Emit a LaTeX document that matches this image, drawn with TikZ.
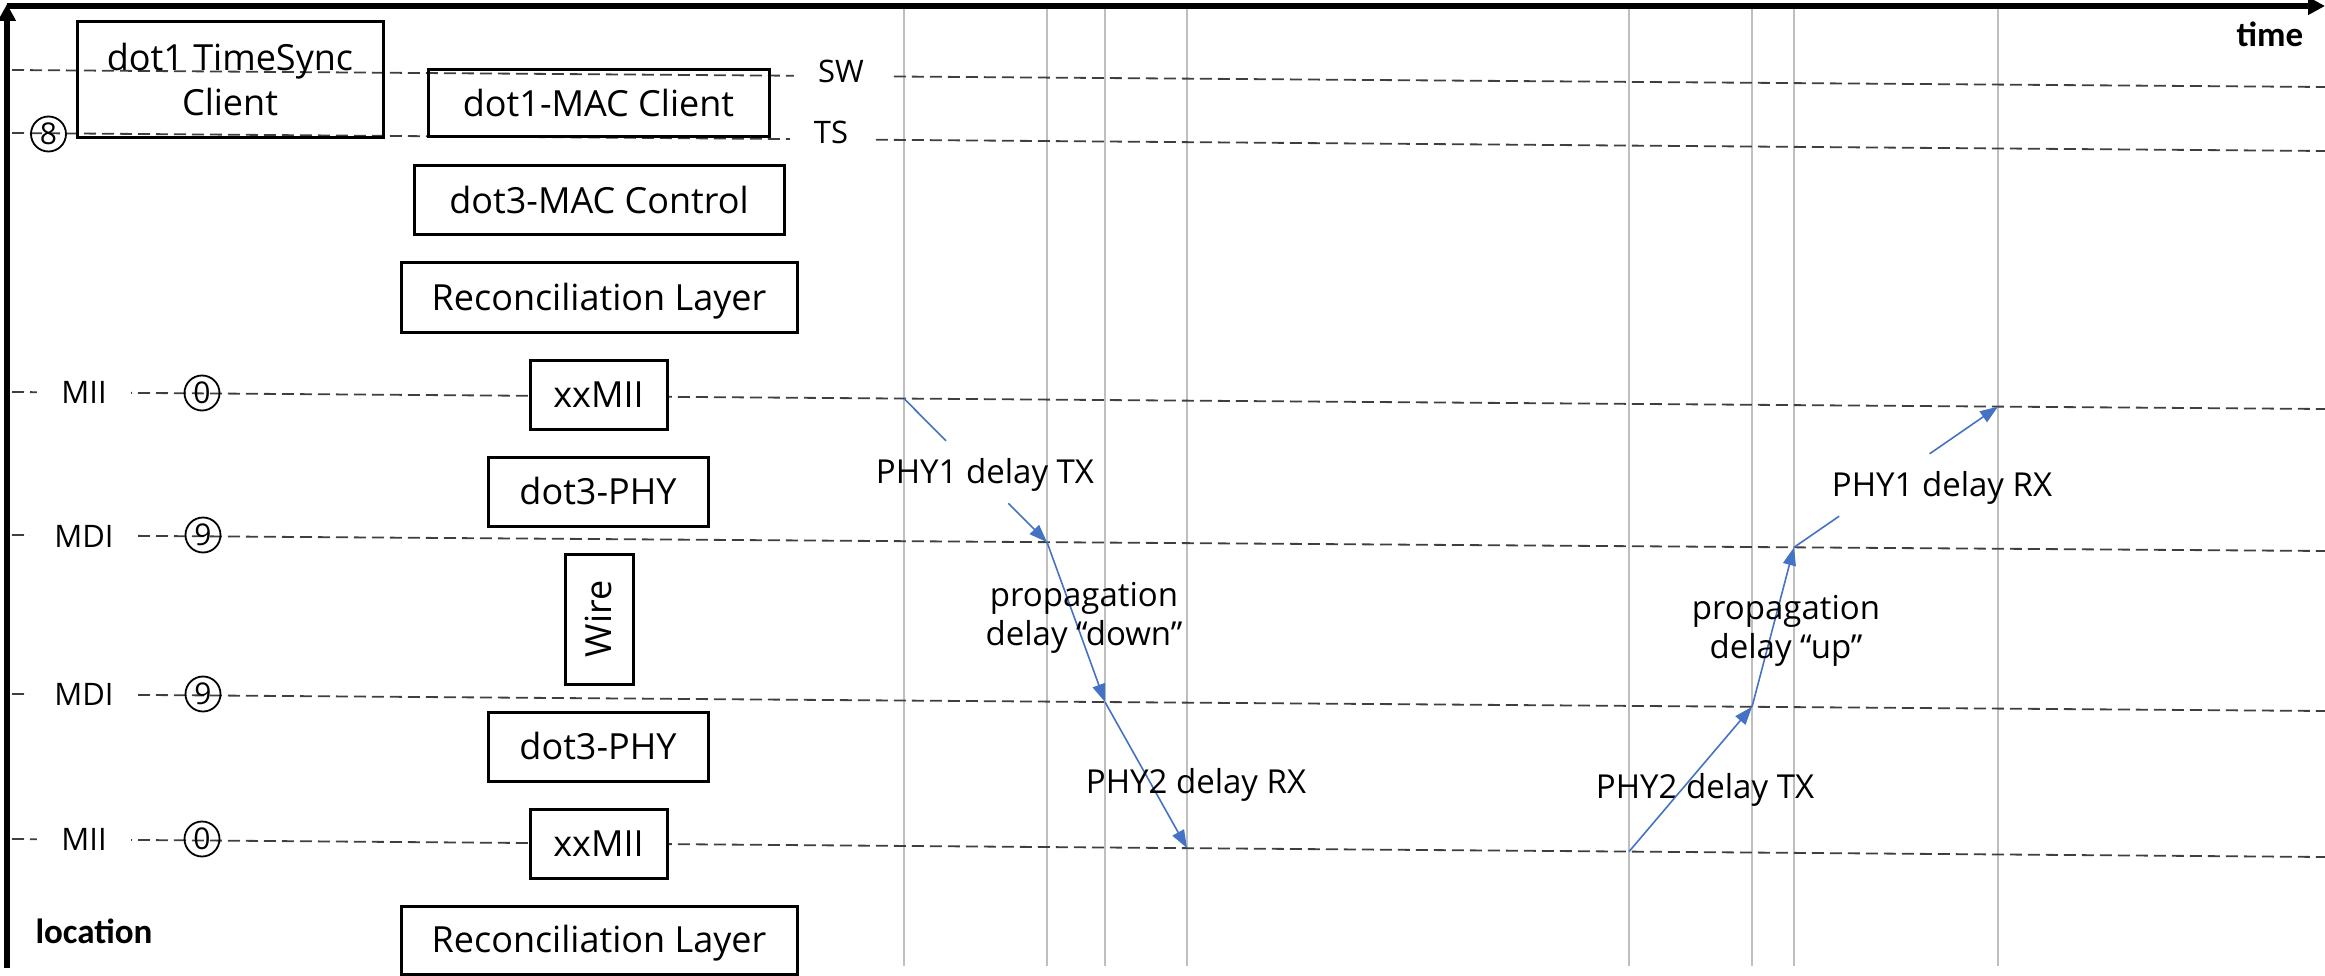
\documentclass[tikz,border=0pt]{standalone}
\usepackage{fontspec}
\setmainfont{Open Sans}
\newfontfamily\axisfont{Carlito}
\usetikzlibrary{arrows.meta}
\definecolor{flowblue}{HTML}{4472C4}
\definecolor{guidegray}{HTML}{3F3F3F}
\definecolor{tickgray}{HTML}{BFBFBF}
\begin{document}
\begin{tikzpicture}[x=1pt,y=-1pt,
  axis/.style={line width=5.5pt,-{Triangle[length=17pt,width=17pt]}},
  timeline/.style={draw=tickgray,line width=1.5pt},
  guide/.style={draw=guidegray,line width=1.8pt,dash pattern=on 12pt off 6pt},
  layerbox/.style={draw,line width=3pt,inner sep=0pt,font=\fontsize{36}{45}\selectfont},
  layer/.style={layerbox,text height=25.7pt,text depth=0pt},
  portlabel/.style={fill=white,inner xsep=24pt,inner ysep=2pt,font=\fontsize{31}{37}\selectfont,text height=22pt,text depth=0pt},
  refmark/.style={circle,draw,line width=1.8pt,minimum size=35pt,inner sep=0pt,font=\fontsize{30}{33}\selectfont,text height=21.4pt,text depth=0pt},
  note/.style={font=\fontsize{33}{39}\selectfont,inner sep=0pt},
  notetwo/.style={note,align=center},
  noteone/.style={note,text height=23.5pt,text depth=0pt},
  band/.style={noteone,minimum height=62pt},
  flow/.style={draw=flowblue,line width=1.6pt,-{Triangle[length=18pt,width=13pt]}},
  flowpart/.style={draw=flowblue,line width=1.6pt},
  axislabel/.style={font=\axisfont\bfseries\fontsize{35}{40}\selectfont,inner sep=0pt,anchor=base}
]
\useasboundingbox (0,0) rectangle (2325,976);

% time instants
\foreach \t [count=\i] in {904,1047,1105,1187,1629,1752,1794,1998} {
  \coordinate (top\i) at (\t,6);
  \coordinate (bot\i) at (\t,966);
  \draw[timeline] (top\i) -- (bot\i);
}

% reference planes
\coordinate (swL) at (12,70);    \coordinate (swR) at (2325,87);
\coordinate (tsL) at (12,133);   \coordinate (tsR) at (2325,151);
\coordinate (miiaL) at (12,392); \coordinate (miiaR) at (2325,409);
\coordinate (mdiaL) at (12,535); \coordinate (mdiaR) at (2325,551);
\coordinate (mdibL) at (12,694); \coordinate (mdibR) at (2325,711);
\coordinate (miibL) at (12,839); \coordinate (miibR) at (2325,857);
\draw[guide] (swL) -- (swR);
\draw[guide] (tsL) -- (tsR);
\draw[guide] (miiaL) -- (miiaR);
\draw[guide] (mdiaL) -- (mdiaR);
\draw[guide] (mdibL) -- (mdibR);
\draw[guide] (miibL) -- (miibR);

\node[portlabel] (swlab) at (841,72) {SW};
\node[portlabel] (tslab) at (831,133) {TS};
\node[portlabel] (miialab) at (84,392) {MII};
\node[portlabel] (mdialab) at (84,536) {MDI};
\node[portlabel] (mdiblab) at (84,694) {MDI};
\node[portlabel] (miiblab) at (84,839) {MII};

% layer stack
\node[layerbox,minimum width=306pt,minimum height=116pt,align=center] (tsync) at (230,80) {dot1 TimeSync\\Client};
\node[layer,minimum width=341pt,minimum height=67pt] (macclient) at (598.5,103.5) {dot1-MAC Client};
\node[layer,minimum width=370pt,minimum height=69pt] (maccontrol) at (599,200.5) {dot3-MAC Control};
\node[layer,minimum width=396pt,minimum height=69pt] (rsa) at (599,297.5) {Reconciliation Layer};
\node[layer,fill=white,minimum width=137pt,minimum height=69pt] (xmiia) at (598.5,394.5) {xxMII};
\node[layer,minimum width=220pt,minimum height=69pt] (phya) at (598,491.5) {dot3-PHY};
\node[layer,rotate=90,minimum width=130pt,minimum height=68pt] (wire) at (599,619) {Wire};
\node[layer,minimum width=220pt,minimum height=69pt] (phyb) at (598,746.5) {dot3-PHY};
\node[layer,fill=white,minimum width=137pt,minimum height=69pt] (xmiib) at (598.5,843.5) {xxMII};
\node[layer,minimum width=396pt,minimum height=68pt] (rsb) at (599,940) {Reconciliation Layer};

% reference point markers
\node[refmark] (mk8) at (48.5,134) {8};
\node[refmark] (mk0a) at (202,393) {0};
\node[refmark] (mk9a) at (203,535) {9};
\node[refmark] (mk9b) at (203,694) {9};
\node[refmark] (mk0b) at (202,839) {0};

% events on the planes
\coordinate (e1) at (904,398.6);
\coordinate (e2) at (1047,542.2);
\coordinate (e3) at (1105,702);
\coordinate (e4) at (1187,848.1);
\coordinate (f1) at (1629,851.6);
\coordinate (f2) at (1752,706.8);
\coordinate (f3) at (1794,547.3);
\coordinate (f4) at (1998,406.6);

% downstream path
\node[band] (txone) at (985,472) {PHY1 delay TX};
\draw[flowpart] (e1) -- (intersection of e1--e2 and txone.north west--txone.north east);
\draw[flow] (intersection of e1--e2 and txone.south west--txone.south east) -- (e2);
\draw[flow] (e2) -- (e3);
\draw[flow] (e3) -- (e4);
\node[notetwo] (pdown) at (1084,618) {propagation\\delay “down”};
\node[noteone] (rxtwo) at (1196,782) {PHY2 delay RX};

% upstream path
\node[noteone] (txtwo) at (1705,787) {PHY2 delay TX};
\draw[flow] (f1) -- (f2);
\draw[flow] (f2) -- (f3);
\node[notetwo] (pup) at (1786,631) {propagation\\delay “up”};
\node[band] (rxone) at (1942,485) {PHY1 delay RX};
\draw[flowpart] (f3) -- (intersection of f3--f4 and rxone.south west--rxone.south east);
\draw[flow] (intersection of f3--f4 and rxone.north west--rxone.north east) -- (f4);

% axes
\coordinate (origin) at (7,968);
\coordinate (ytip) at (7,4);
\coordinate (corner) at (7,6);
\coordinate (xtip) at (2325,6);
\draw[axis] (origin) -- (ytip);
\draw[axis] (corner) -- (xtip);
\node[axislabel] (timelab) at (2270,47) {time};
\node[axislabel] (loclab) at (94,943) {location};
\end{tikzpicture}
\end{document}
